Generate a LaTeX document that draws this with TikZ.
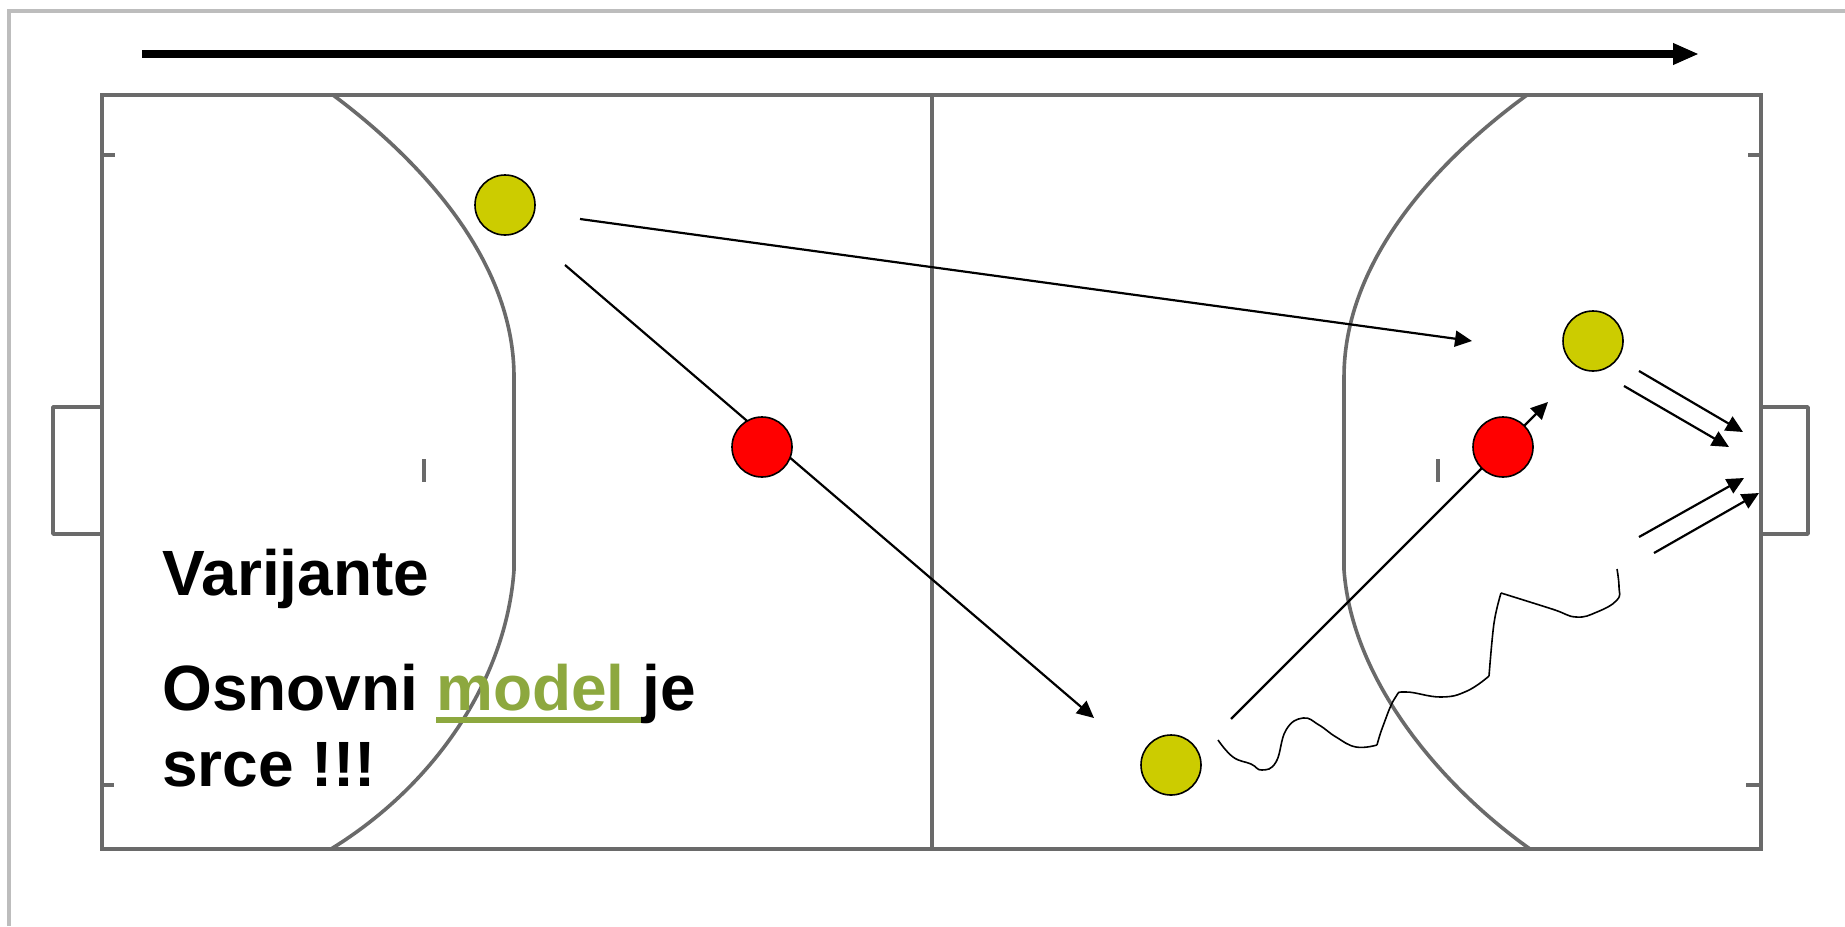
\documentclass[tikz,border=0pt]{standalone}
\usepackage{fontspec}
\setmainfont{Liberation Sans}
\usetikzlibrary{arrows.meta}
\definecolor{courtgray}{HTML}{6A6A6A}
\definecolor{framegray}{HTML}{BDBDBD}
\definecolor{playeryellow}{HTML}{CCCC00}
\definecolor{modelgreen}{HTML}{8DA83F}
\newcommand{\greenword}[1]{{\color{modelgreen}\setbox0=\hbox{#1}\rlap{\rule[-6.5pt]{\wd0}{3pt}}\box0}}
\tikzset{
	court/.style={draw=courtgray,line width=1.8pt},
	player/.style={circle,draw=black,line width=0.8pt,minimum size=30pt,inner sep=0pt},
	pass/.style={draw=black,line width=1.1pt,-{Triangle[length=8.5pt,width=8pt]}},
	dribble/.style={draw=black,line width=0.8pt},
	caption/.style={anchor=base west,inner sep=0pt,font=\fontsize{32}{38}\selectfont\bfseries}
}
\begin{document}
\begin{tikzpicture}[x=0.5pt,y=-0.5pt]
	\useasboundingbox (0,0) rectangle (1845,926);
	\fill[white] (0,0) rectangle (1845,926);
	\draw[framegray,line width=1.8pt] (9,926) -- (9,11) -- (1845,11);

	\draw[court] (102,95) rectangle (1761,849);
	\draw[court] (932,95) -- (932,849);
	\draw[court,line join=round] (102,407) -- (53,407) -- (53,534) -- (102,534);
	\draw[court,line join=round] (1761,407) -- (1808,407) -- (1808,534) -- (1761,534);
	\draw[court] (333,95) .. controls (420,160) and (514,260) .. (514,377) -- (514,570) .. controls (506,680) and (435,785) .. (331,849);
	\draw[court] (1527,95) .. controls (1438,160) and (1344,260) .. (1344,377) -- (1344,570) .. controls (1352,680) and (1440,785) .. (1530,849);
	\draw[court] (102,155) -- (115,155);
	\draw[court] (102,785) -- (114,785);
	\draw[court] (1748,155) -- (1761,155);
	\draw[court] (1746,785) -- (1761,785);
	\draw[court] (424,459) -- (424,482);
	\draw[court] (1438,459) -- (1438,482);

	\coordinate (flowstart) at (142,54);
	\coordinate (flowend) at (1699,54);
	\coordinate (cross1) at (580,219);
	\coordinate (cross2) at (1472,341);
	\coordinate (diag1) at (565,265);
	\coordinate (diag2) at (1094,718);
	\coordinate (run1) at (1231,719);
	\coordinate (run2) at (1548,402);
	\coordinate (shotA1) at (1639,371);
	\coordinate (shotA2) at (1743,432);
	\coordinate (shotB1) at (1624,386);
	\coordinate (shotB2) at (1729,447);
	\coordinate (shotC1) at (1639,537);
	\coordinate (shotC2) at (1744,478);
	\coordinate (shotD1) at (1654,553);
	\coordinate (shotD2) at (1759,493);
	\coordinate (wig1) at (1218,740);
	\coordinate (wig2) at (1377,745);
	\coordinate (wig3) at (1489,676);
	\coordinate (wig4) at (1501,593);
	\coordinate (wig5) at (1617,569);

	\draw[line width=4pt,-{Triangle[length=13pt,width=10pt]}] (flowstart) -- (flowend);
	\draw[pass] (cross1) -- (cross2);
	\draw[pass] (diag1) -- (diag2);
	\draw[pass] (run1) -- (run2);
	\draw[pass] (shotA1) -- (shotA2);
	\draw[pass] (shotB1) -- (shotB2);
	\draw[pass] (shotC1) -- (shotC2);
	\draw[pass] (shotD1) -- (shotD2);
	\draw[dribble] plot[smooth,tension=0.75] coordinates {(wig1) (1233,757) (1251,764) (1262,770) (1276,762) (1286,730) (1303,718) (1319,725) (1336,737) (1356,747) (wig2)};
	\draw[dribble] plot[smooth,tension=0.75] coordinates {(wig2) (1383,726) (1395,698) (1406,692) (1441,697) (1467,691) (wig3)};
	\draw[dribble] plot[smooth,tension=0.6] coordinates {(wig3) (1494,623) (wig4)};
	\draw[dribble] plot[smooth,tension=0.75] coordinates {(wig4) (1552,609) (1576,617) (1597,612) (1617,600) (1619,587) (wig5)};

	\node[player,fill=playeryellow] (yellow1) at (505,205) {};
	\node[player,fill=red] (red1) at (762,447) {};
	\node[player,fill=red] (red2) at (1503,447) {};
	\node[player,fill=playeryellow] (yellow2) at (1171,765) {};
	\node[player,fill=playeryellow] (yellow3) at (1593,341) {};

	\node[caption] (varijante) at (162,595) {Varijante};
	\node[caption] (osnovni) at (162,710) {Osnovni \greenword{model }je};
	\node[caption] (srce) at (162,786) {srce !!!};
\end{tikzpicture}
\end{document}
